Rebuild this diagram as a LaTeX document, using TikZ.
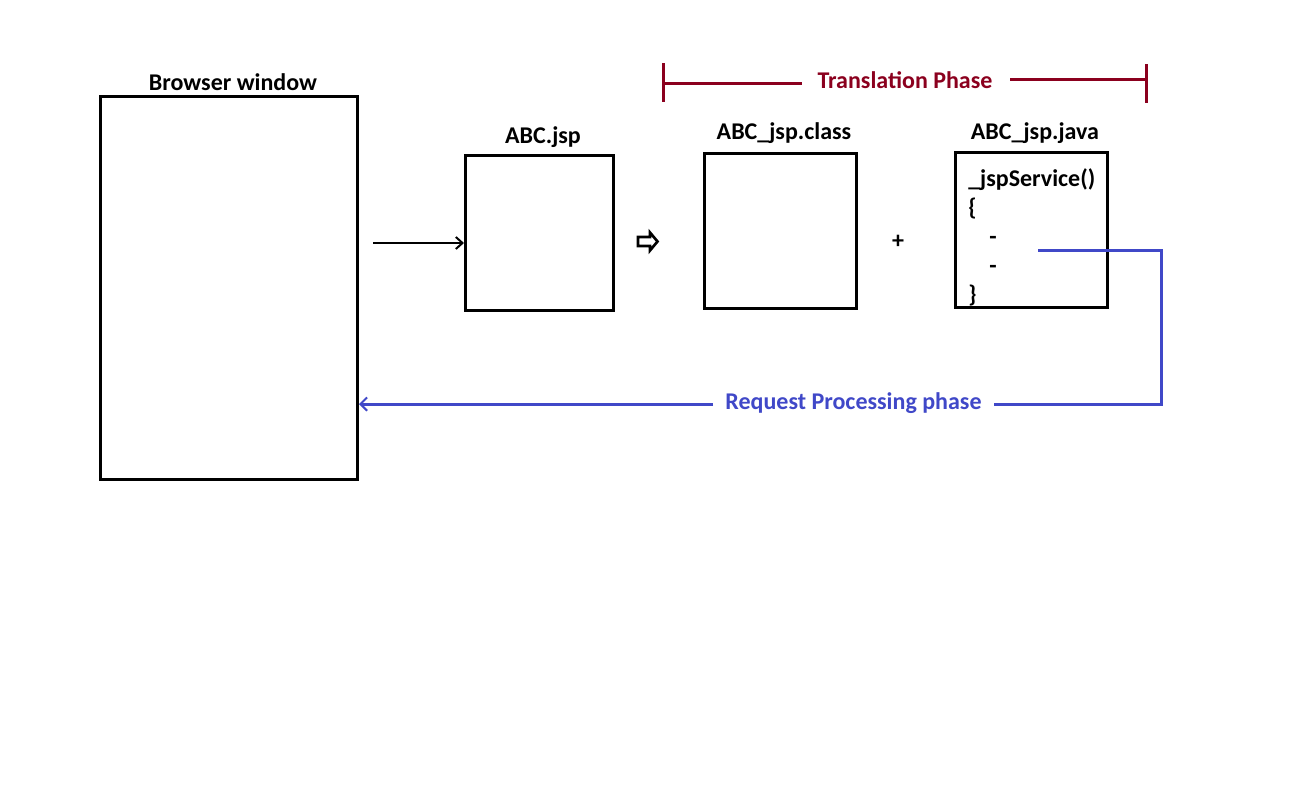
\documentclass[tikz,border=0pt]{standalone}
\usepackage{fontspec}
\setmainfont{Carlito}
\usetikzlibrary{arrows.meta}
\definecolor{phasered}{RGB}{139,0,30}
\definecolor{reqblue}{RGB}{64,72,200}
\begin{document}
\begin{tikzpicture}[x=0.75pt,y=-0.75pt,
  box/.style={draw=black,line width=2.25pt,minimum width=114pt,minimum height=116.25pt,inner sep=0pt},
  lbl/.style={font=\fontsize{18}{21}\selectfont\bfseries,inner sep=0pt},
  code/.style={font=\fontsize{18}{21}\selectfont\bfseries,inner sep=0pt,anchor=base west},
  conn/.style={line width=2pt,line cap=rect},
  blueline/.style={draw=reqblue,line width=2.25pt},
  redline/.style={draw=phasered,line width=2.25pt}]
\useasboundingbox (0,0) rectangle (1297,797);
% boxes
\node[box,minimum width=192.75pt,minimum height=287.25pt] (browser) at (229,288) {};
\node[lbl] (browserlbl) at (233,82) {Browser window};
\node[box,minimum width=111pt] (jsp) at (539.5,233) {};
\node[lbl] (jsplbl) at (543,137) {ABC.jsp};
\node[box] (cls) at (780.5,231) {};
\node[lbl] (clslbl) at (784,133) {ABC\_jsp.class};
\node[box] (java) at (1031.5,230) {};
\node[lbl] (javalbl) at (1035,133) {ABC\_jsp.java};
\node[lbl] (plus) at (898,242) {+};
% code inside java box
\node[code] (c1) at (968,186) {\_jspService()};
\node[code] (c2) at (968,215) {\{};
\node[code] (c3) at (989,244) {-};
\node[code] (c4) at (989,273) {-};
\node[code] (c5) at (968,302) {\}};
% request arrow
\coordinate (req) at (374,243);
\draw[conn,-{Straight Barb[length=5pt,width=9pt,line width=1.5pt]}] (req) -- (jsp.west |- req);
% hollow block arrow
\coordinate (ha) at (638,237);
\draw[line width=2pt,line join=miter] (ha) -- ++(12,0) -- ++(0,-4.5) -- ++(7.5,9) -- ++(-7.5,9) -- ++(0,-4.5) -- ++(-12,0) -- cycle;
% translation phase bracket
\node[lbl,text=phasered] (trans) at (905,80) {Translation Phase};
\coordinate (tl) at (663,83);
\coordinate (tr) at (1146,79);
\draw[redline] (663,63) -- (663,102);
\draw[redline] (1146,64) -- (1146,103);
\draw[redline] (tl) -- (802,83);
\draw[redline] (1010,79) -- (tr);
% request processing phase
\node[lbl,text=reqblue,inner xsep=9pt] (rp) at (853.5,403) {Request Processing phase};
\coordinate (start) at (1038,250);
\coordinate (corner) at (1161,404);
\draw[blueline] (start) -| (corner) -- (rp.east |- corner);
\draw[blueline,-{Straight Barb[length=5pt,width=10pt,line width=1.5pt]}] (rp.west |- corner) -- (browser.east |- corner);
\end{tikzpicture}
\end{document}
